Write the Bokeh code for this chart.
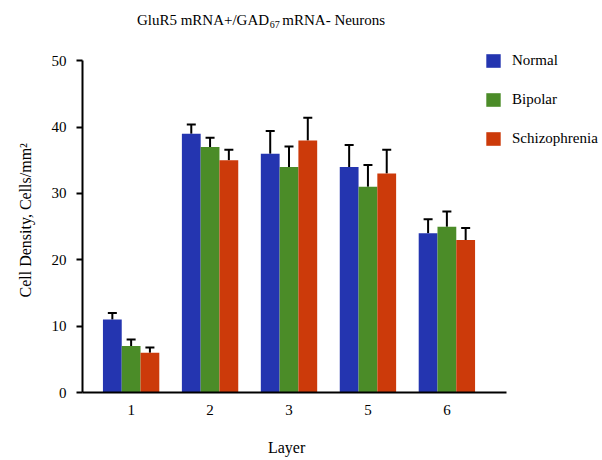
from bokeh.plotting import figure
from bokeh.layouts import column
from bokeh.models import (Range1d, FixedTicker, ColumnDataSource, Whisker, TeeHead,
                          Label, Legend, LegendItem, Title)
from bokeh.embed import file_html
from bokeh.resources import INLINE

# ---- data ----
layers = ["1", "2", "3", "5", "6"]
series = ["Normal", "Bipolar", "Schizophrenia"]
normal = [11, 39, 36, 34, 24]
bipolar = [7, 37, 34, 31, 25]
schizo = [6, 35, 38, 33, 23]
normal_err = [1.0, 1.4, 3.4, 3.3, 2.1]
bipolar_err = [1.0, 1.4, 3.1, 3.3, 2.3]
schizo_err = [0.8, 1.6, 3.4, 3.6, 1.8]
y_ticks = [0, 10, 20, 30, 40, 50]

colors = ["#2435B0", "#4B8C28", "#CC3A0A"]
FONT = "Liberation Serif"

p = figure(width=600, height=432,
           x_range=Range1d(-0.616, 5.946), y_range=Range1d(0, 59.09),
           output_backend="svg", toolbar_location=None,
           min_border_left=81, min_border_right=0,
           min_border_top=0, min_border_bottom=40)
p.outline_line_color = None
p.xgrid.visible = False
p.ygrid.visible = False

bw = 0.238
offsets = [-bw, 0.0, bw]
vals = [normal, bipolar, schizo]
errs = [normal_err, bipolar_err, schizo_err]
idx = list(range(len(layers)))

items = []
for s, v, e, c, off in zip(series, vals, errs, colors, offsets):
    xs = [i + off for i in idx]
    src = ColumnDataSource(dict(x=xs, top=v, upper=[a + b for a, b in zip(v, e)]))
    r = p.vbar(x="x", top="top", width=bw, source=src, fill_color=c,
               line_color=None)
    items.append(LegendItem(label=s, renderers=[r]))
    w = Whisker(base="x", lower="top", upper="upper", source=src,
                lower_head=None,
                upper_head=TeeHead(size=9, line_width=2, line_color="black"),
                line_width=2, line_color="black")
    p.add_layout(w)

# axes
p.xaxis.bounds = (-0.616, 4.757)
p.yaxis.bounds = (0, 50)
p.xaxis.ticker = FixedTicker(ticks=idx)
p.xaxis.major_label_overrides = {i: l for i, l in zip(idx, layers)}
p.xaxis.major_tick_line_color = None
p.xaxis.minor_tick_line_color = None
p.xaxis.major_tick_out = 0
p.xaxis.major_tick_in = 0
p.xaxis.major_label_standoff = 12
p.yaxis.ticker = FixedTicker(ticks=y_ticks)
p.yaxis.minor_tick_line_color = None
p.yaxis.major_tick_out = 6
p.yaxis.major_tick_in = 0
p.yaxis.major_label_standoff = 10
for ax in (p.xaxis, p.yaxis):
    ax.axis_line_width = 2
    ax.axis_line_color = "black"
    ax.major_tick_line_width = 2
    ax.major_label_text_font = FONT
    ax.major_label_text_font_size = "15px"
    ax.major_label_text_color = "black"

# y axis title as a left-panel title (positioned with offset)
p.add_layout(Title(text="Cell Density, Cells/mm\u00b2", align="left", offset=95,
                   standoff=29, text_font=FONT, text_font_size="16px",
                   text_font_style="normal", text_color="black"), "left")

# legend
leg = Legend(items=items, location=(402, 245), orientation="vertical",
             glyph_width=18, glyph_height=17, label_height=17, spacing=22,
             label_standoff=10, padding=0, margin=0,
             border_line_color=None, background_fill_alpha=0,
             label_text_font=FONT, label_text_font_size="15px",
             label_text_color="black")
p.add_layout(leg, "center")

# chart title with subscript
p.add_layout(Label(x=1.748, y=56.18, text="GluR5 mRNA+/GAD", text_align="right",
                   text_baseline="alphabetic", text_font=FONT,
                   text_font_size="15px", text_color="black"))
p.add_layout(Label(x=1.756, y=55.43, text="67", text_align="left",
                   text_baseline="alphabetic", text_font=FONT,
                   text_font_size="10px", text_color="black"))
p.add_layout(Label(x=1.915, y=56.18, text="mRNA- Neurons", text_align="left",
                   text_baseline="alphabetic", text_font=FONT,
                   text_font_size="15px", text_color="black"))

# strip below holding the x axis title, sharing the x scale
p2 = figure(width=600, height=26, x_range=p.x_range, y_range=Range1d(0, 26),
            output_backend="svg", toolbar_location=None,
            min_border_left=81, min_border_right=0,
            min_border_top=0, min_border_bottom=0)
p2.outline_line_color = None
p2.xaxis.visible = False
p2.yaxis.visible = False
p2.xgrid.visible = False
p2.ygrid.visible = False
p2.add_layout(Label(x=1.97, y=11.5, text="Layer", text_align="center",
                    text_baseline="alphabetic", text_font=FONT,
                    text_font_size="16px", text_color="black"))

layout = column(p, p2, spacing=0)
open("out.html", "w").write(file_html(layout, INLINE))
